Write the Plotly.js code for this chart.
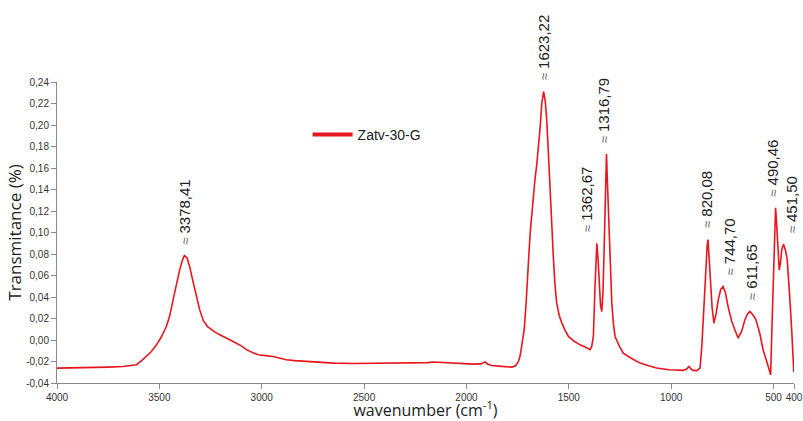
<!DOCTYPE html>
<html>
<head>
<meta charset="utf-8">
<script src="https://cdn.plot.ly/plotly-3.0.1.min.js"></script>
<style>html,body{margin:0;padding:0;background:#fff;}#chart{width:803px;height:421px;}</style>
</head>
<body>
<div id="chart"></div>
<script>
// Spectrum data (wavenumber in cm-1, transmittance)
const wavenumber = [4000,3850,3750,3677,3630,3612,3585,3563,3540,3514,3490,3466,3450,3433,3418,3401,3388,3378,3365,3352,3340,3327,3315,3303,3285,3265,3254,3230,3205,3170,3140,3100,3075,3040,3018,2980,2945,2910,2880,2840,2782,2700,2649,2550,2450,2350,2226,2190,2161,2120,2080,2047,2000,1966,1930,1909,1895,1876,1830,1790,1778,1760,1746,1737,1730,1718,1710,1702,1695,1689,1680,1673,1665,1656,1648,1640,1632,1623,1615,1608,1600,1592,1584,1575,1567,1559,1547,1534,1518,1502,1475,1445,1420,1396,1388,1380,1372,1363,1357,1351,1345,1339,1333,1328,1322,1316,1310,1302,1296,1290,1282,1274,1255,1234,1195,1152,1110,1071,1010,957,941,925,913,903,892,875,859,850,843,836,830,824,820,814,807,800,791,780,770,758,746,735,722,705,689,673,656,640,628,616,601,586,567,551,538,526,514,508,502,496,490,486,482,477,472,466,460,451,441,433,425,420,410,401];
const transmittance = [-0.0262,-0.0258,-0.0252,-0.0246,-0.0238,-0.023,-0.019,-0.0153,-0.011,-0.0045,0.003,0.0125,0.022,0.0373,0.051,0.065,0.074,0.0785,0.0765,0.0682,0.058,0.0466,0.036,0.028,0.018,0.0125,0.011,0.0075,0.0048,0.0018,-0.0014,-0.0055,-0.009,-0.012,-0.0137,-0.0145,-0.0153,-0.017,-0.0184,-0.0192,-0.020,-0.021,-0.0215,-0.0218,-0.0216,-0.0218,-0.0215,-0.021,-0.0205,-0.021,-0.0212,-0.0215,-0.022,-0.0224,-0.0222,-0.0205,-0.0225,-0.0237,-0.0245,-0.025,-0.0252,-0.024,-0.020,-0.014,-0.006,0.0095,0.03,0.059,0.08,0.099,0.118,0.136,0.15,0.164,0.18,0.198,0.22,0.231,0.222,0.205,0.175,0.14,0.11,0.075,0.05,0.034,0.023,0.0157,0.009,0.0033,-0.001,-0.0045,-0.0065,-0.009,-0.006,0.0033,0.0497,0.090,0.075,0.0497,0.032,0.0265,0.045,0.0807,0.13,0.173,0.14,0.096,0.06,0.0343,0.015,0.0033,-0.005,-0.0122,-0.017,-0.0215,-0.024,-0.0261,-0.0277,-0.0285,-0.0282,-0.027,-0.0246,-0.027,-0.0283,-0.0285,-0.0261,-0.005,0.0218,0.048,0.0682,0.088,0.0935,0.075,0.0528,0.03,0.0157,0.025,0.0373,0.047,0.0497,0.044,0.0311,0.018,0.0095,0.0018,0.008,0.0187,0.024,0.0265,0.0235,0.0187,0.006,-0.009,-0.017,-0.0246,-0.0323,0.01,0.0528,0.10,0.123,0.112,0.0992,0.075,0.065,0.072,0.084,0.089,0.083,0.0745,0.055,0.0373,0.005,-0.03];

// Peak labels
const peakWavenumbers = [3378.41,1623.22,1362.67,1316.79,820.08,744.70,611.65,490.46,451.50];
const peakLabels = ['3378,41','1623,22','1362,67','1316,79','820,08','744,70','611,65','490,46','451,50'];
const peakHeights = [0.0785,0.231,0.090,0.173,0.0935,0.0497,0.0265,0.123,0.089];

// Tick labels
const xTickVals = [4000,3500,3000,2500,2000,1500,1000,500,400];
const xTickText = ['4000','3500','3000','2500','2000','1500','1000','500','400'];
const yTickVals = [-0.04,-0.02,0,0.02,0.04,0.06,0.08,0.10,0.12,0.14,0.16,0.18,0.20,0.22,0.24];
const yTickText = ['-0,04','-0,02','0,00','0,02','0,04','0,06','0,08','0,10','0,12','0,14','0,16','0,18','0,20','0,22','0,24'];

const seriesName = 'Zatv-30-G';
const RED = '#e8161e';

// label horizontal nudges (px) to mimic original placement
const labelNudge = [0,0,-11,-3,-1,6,1,-3,8];

const traces = [
  {x: wavenumber, y: transmittance, type: 'scatter', mode: 'lines',
   line: {color: RED, width: 1.6}, showlegend: false, hoverinfo: 'x+y'},
  {x: [null], y: [null], type: 'scatter', mode: 'lines', name: seriesName,
   line: {color: RED, width: 4}, showlegend: true}
];

const annotations = peakWavenumbers.map((w, i) => ({
  x: w, y: peakHeights[i], xref: 'x', yref: 'y',
  text: "<span style='color:#666;font-size:13px'>≈</span> " + peakLabels[i],
  showarrow: false, textangle: -90, xanchor: 'center', yanchor: 'bottom',
  yshift: 9, xshift: labelNudge[i],
  font: {family: 'Liberation Sans, Arial, sans-serif', size: 15, color: '#222'}
}));

const axisCommon = {
  showline: true, linecolor: '#8a8a8a', linewidth: 1,
  ticks: 'outside', ticklen: 5, tickcolor: '#8a8a8a', tickwidth: 1,
  showgrid: false, zeroline: false,
  tickfont: {family: 'Liberation Sans, Arial, sans-serif', size: 10, color: '#333'}
};

const layout = {
  width: 803, height: 421,
  margin: {l: 57, r: 9, t: 82, b: 38, pad: 0},
  paper_bgcolor: '#fff', plot_bgcolor: '#fff',
  showlegend: true,
  legend: {x: 0.34, y: 0.877, xanchor: 'left', yanchor: 'top', bgcolor: 'rgba(0,0,0,0)',
    itemwidth: 40,
    font: {family: 'Liberation Sans, Arial, sans-serif', size: 14, color: '#222'}},
  xaxis: Object.assign({}, axisCommon, {
    range: [4000, 400], tickmode: 'array', tickvals: xTickVals, ticktext: xTickText,
    title: {text: 'wavenumber (cm<sup>-1</sup>)', font: {family: 'Open Sans, sans-serif', size: 16, color: '#222'}}
  }),
  yaxis: Object.assign({}, axisCommon, {
    range: [-0.04, 0.24], tickmode: 'array', tickvals: yTickVals, ticktext: yTickText,
    automargin: true,
    title: {text: 'Transmitance (%)', standoff: 0, font: {family: 'Open Sans, sans-serif', size: 17, color: '#222'}}
  }),
  annotations: annotations
};

Plotly.newPlot('chart', traces, layout, {displayModeBar: false, staticPlot: true});
</script>
</body>
</html>
